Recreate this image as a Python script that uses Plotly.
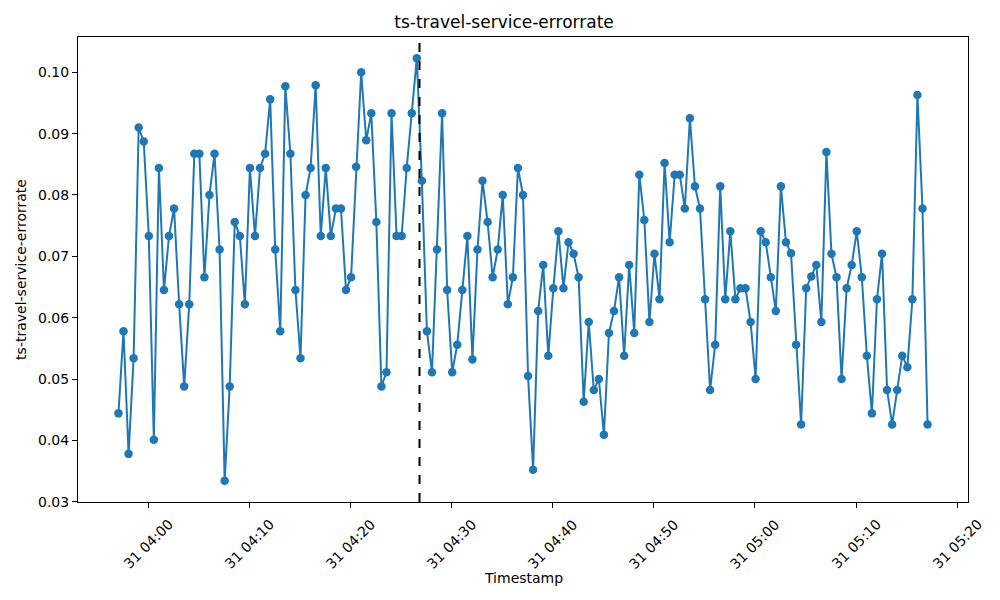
import plotly.graph_objects as go
import pandas as pd

# error rate samples, one every 30 s
start_time = "2024-01-31 03:57:04"
interval = "30s"
error_rate = [
    0.0444, 0.0578, 0.0378, 0.0534, 0.0910, 0.0887, 0.0733, 0.0401, 0.0844, 0.0645,
    0.0733, 0.0778, 0.0622, 0.0488, 0.0622, 0.0867, 0.0867, 0.0666, 0.0800, 0.0867,
    0.0711, 0.0334, 0.0488, 0.0756, 0.0733, 0.0622, 0.0844, 0.0733, 0.0844, 0.0867,
    0.0956, 0.0711, 0.0578, 0.0977, 0.0867, 0.0645, 0.0534, 0.0800, 0.0844, 0.0979,
    0.0733, 0.0844, 0.0733, 0.0778, 0.0778, 0.0645, 0.0666, 0.0846, 0.1000, 0.0889,
    0.0933, 0.0756, 0.0488, 0.0511, 0.0933, 0.0733, 0.0733, 0.0844, 0.0933, 0.1023,
    0.0823, 0.0578, 0.0511, 0.0711, 0.0933, 0.0645, 0.0511, 0.0556, 0.0645, 0.0733,
    0.0532, 0.0711, 0.0823, 0.0756, 0.0666, 0.0711, 0.0800, 0.0622, 0.0666, 0.0844,
    0.0800, 0.0505, 0.0352, 0.0611, 0.0686, 0.0538, 0.0648, 0.0741, 0.0648, 0.0723,
    0.0704, 0.0666, 0.0463, 0.0593, 0.0482, 0.0500, 0.0409, 0.0575, 0.0611, 0.0666,
    0.0538, 0.0686, 0.0575, 0.0833, 0.0759, 0.0593, 0.0704, 0.0630, 0.0852, 0.0723,
    0.0833, 0.0833, 0.0778, 0.0925, 0.0814, 0.0778, 0.0630, 0.0482, 0.0556, 0.0814,
    0.0630, 0.0741, 0.0630, 0.0648, 0.0648, 0.0593, 0.0500, 0.0741, 0.0723, 0.0666,
    0.0611, 0.0814, 0.0723, 0.0705, 0.0556, 0.0426, 0.0648, 0.0667, 0.0686, 0.0593,
    0.0870, 0.0704, 0.0666, 0.0500, 0.0648, 0.0686, 0.0741, 0.0666, 0.0538, 0.0444,
    0.0630, 0.0704, 0.0482, 0.0426, 0.0482, 0.0538, 0.0519, 0.0630, 0.0963, 0.0778,
    0.0426,
]
anomaly_time = "2024-01-31 04:26:50"

tick_times = ["2024-01-31 04:00", "2024-01-31 04:10", "2024-01-31 04:20", "2024-01-31 04:30",
              "2024-01-31 04:40", "2024-01-31 04:50", "2024-01-31 05:00", "2024-01-31 05:10",
              "2024-01-31 05:20"]
tick_labels = ["31 04:00", "31 04:10", "31 04:20", "31 04:30", "31 04:40",
               "31 04:50", "31 05:00", "31 05:10", "31 05:20"]

timestamps = pd.date_range(start_time, periods=len(error_rate), freq=interval)

blue = "#1f77b4"
font = "DejaVu Sans"

# the page body has an 8px margin, so the figure is drawn 8px smaller
W, H = 992, 592

fig = go.Figure()
fig.add_trace(go.Scatter(
    x=timestamps, y=error_rate, mode="lines+markers",
    line=dict(color=blue, width=2),
    marker=dict(color=blue, size=8.5),
))

# anomaly marker
fig.add_shape(type="line", xref="x", yref="paper", x0=anomaly_time, x1=anomaly_time,
              y0=0, y1=1, line=dict(color="black", width=2, dash="dash"))

# 5% padding like matplotlib
t0, t1 = timestamps[0], timestamps[-1]
pad_t = (t1 - t0) * 0.05
ymin, ymax = min(error_rate), max(error_rate)
pad_y = (ymax - ymin) * 0.05

axis_common = dict(showline=True, linecolor="black", linewidth=1, mirror=True,
                   ticks="outside", ticklen=5, tickcolor="black", showgrid=False,
                   zeroline=False)

fig.update_xaxes(range=[t0 - pad_t, t1 + pad_t], tickvals=tick_times,
                 showticklabels=False, **axis_common)
fig.update_yaxes(range=[ymin - pad_y, ymax + pad_y], dtick=0.01, tickformat=".2f",
                 tickfont=dict(size=14, color="black"),
                 title=dict(text="ts-travel-service-errorrate", font=dict(size=14, color="black"),
                            standoff=8),
                 **axis_common)

# rotated tick labels centred on the ticks (matplotlib style)
for tv, tl in zip(tick_times, tick_labels):
    fig.add_annotation(x=tv, xref="x", y=0, yref="paper", yshift=-11, text=tl,
                       textangle=-45, xanchor="center", yanchor="top", showarrow=False,
                       font=dict(size=14, color="black"))

fig.add_annotation(x=0.5, xref="paper", y=0, yref="paper", yshift=-66, text="Timestamp",
                   xanchor="center", yanchor="top", showarrow=False,
                   font=dict(size=14, color="black"))

fig.update_layout(
    width=W, height=H,
    title=dict(text="ts-travel-service-errorrate", x=0.5, xanchor="center",
               y=1 - 14 / H, yanchor="middle", font=dict(size=17, color="black")),
    font=dict(family=font, size=14, color="black"),
    margin=dict(l=67, r=32, t=29, b=98),
    paper_bgcolor="white", plot_bgcolor="white",
    showlegend=False,
)

fig.write_html("out.html")
